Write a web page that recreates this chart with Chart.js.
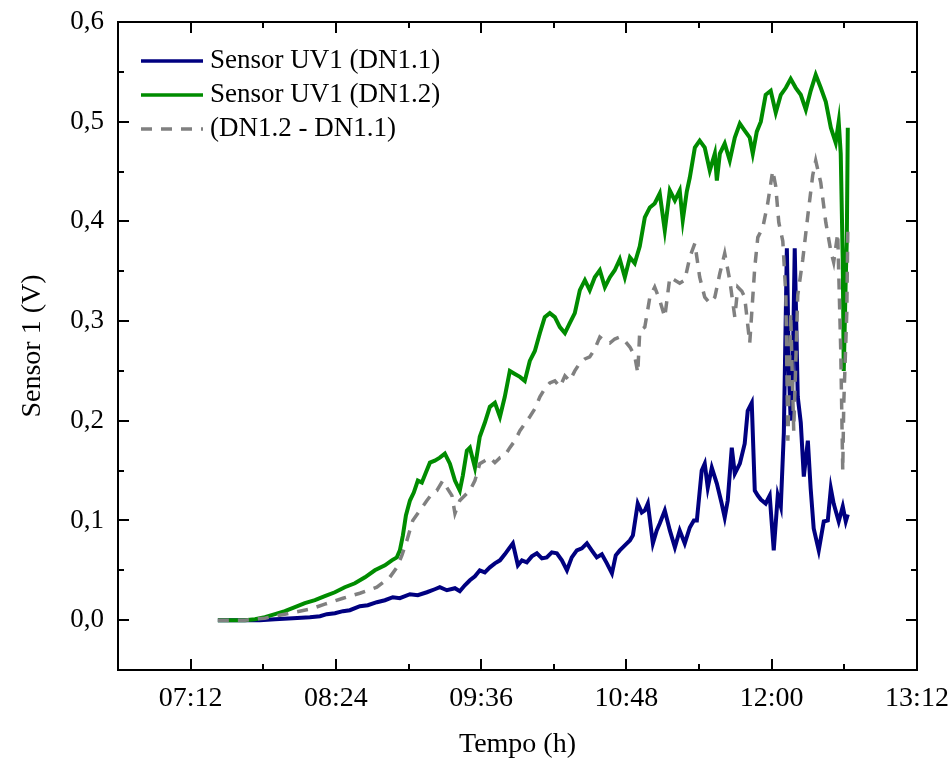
<!DOCTYPE html>
<html>
<head>
<meta charset="utf-8">
<title>Sensor UV1</title>
<script src="https://cdn.jsdelivr.net/npm/chart.js@4.4.0/dist/chart.umd.min.js"></script>
<style>
    html, body { margin: 0; padding: 0; background: #fff; }
    #wrap { width: 952px; height: 762px; }
</style>
</head>
<body>
<div id="wrap"><canvas id="myChart"></canvas></div>
<script>
// tempo em minutos desde 00:00, valores em V

// Sensor UV1 (DN1.1)
const tempoDN11 = [
    445.5, 456.4, 466.3, 473.8, 482.7, 491.1, 496.1, 499.5, 503.5, 507.5,
    510.9, 515.9, 519.8, 524.3, 528.3, 532.2, 535.7, 540.7, 544.6, 549.1,
    553.0, 555.5, 559.0, 563.0, 565.4, 567.9, 570.4, 572.9, 575.3, 577.8,
    580.3, 582.8, 585.3, 587.7, 590.2, 591.7, 594.2, 596.2, 598.6, 601.1,
    603.6, 606.1, 608.5, 611.0, 613.5, 616.0, 618.5, 620.9, 623.4, 625.9,
    628.4, 630.8, 633.3, 635.8, 638.3, 640.8, 642.7, 644.7, 646.7, 648.2,
    649.7, 651.2, 653.6, 655.6, 657.1, 658.6, 661.1, 663.0, 664.5, 667.0,
    669.5, 672.0, 674.4, 676.9, 679.4, 681.4, 682.9, 685.3, 686.8, 688.3,
    690.3, 692.8, 695.2, 696.7, 698.2, 700.2, 701.7, 704.2, 706.6, 708.1,
    710.1, 711.6, 713.1, 714.6, 717.0, 719.0, 721.0, 723.0, 724.5, 726.0,
    727.5, 728.5, 729.4, 730.4, 731.4, 732.9, 734.4, 735.9, 737.9, 739.3,
    740.8, 743.3, 745.8, 747.8, 749.3, 750.7, 753.2, 755.2, 756.7, 757.7
];
const sensorDN11 = [
    0.000, 0.000, 0.000, 0.001, 0.002, 0.003, 0.004, 0.006, 0.007, 0.009,
    0.010, 0.014, 0.015, 0.018, 0.020, 0.023, 0.022, 0.026, 0.025, 0.028,
    0.031, 0.033, 0.030, 0.032, 0.029, 0.035, 0.040, 0.044, 0.050, 0.048,
    0.053, 0.057, 0.060, 0.066, 0.073, 0.077, 0.055, 0.060, 0.058, 0.064,
    0.067, 0.062, 0.063, 0.068, 0.067, 0.060, 0.050, 0.063, 0.070, 0.072,
    0.077, 0.070, 0.063, 0.066, 0.057, 0.047, 0.065, 0.070, 0.074, 0.077,
    0.080, 0.085, 0.117, 0.108, 0.110, 0.117, 0.077, 0.090, 0.097, 0.110,
    0.090, 0.073, 0.090, 0.077, 0.093, 0.100, 0.100, 0.150, 0.157, 0.133,
    0.153, 0.137, 0.117, 0.103, 0.120, 0.173, 0.147, 0.157, 0.177, 0.210,
    0.218, 0.130, 0.125, 0.121, 0.117, 0.125, 0.070, 0.125, 0.114, 0.188,
    0.373, 0.250, 0.200, 0.250, 0.373, 0.224, 0.198, 0.144, 0.180, 0.132,
    0.092, 0.070, 0.099, 0.100, 0.132, 0.117, 0.099, 0.114, 0.099, 0.106
];

// Sensor UV1 (DN1.2)
const tempoDN12 = [
    445.5, 451.5, 458.9, 463.9, 468.8, 473.8, 478.7, 483.7, 488.6, 493.6,
    498.5, 503.5, 508.4, 513.4, 518.4, 523.3, 528.3, 531.7, 534.2, 535.7,
    537.2, 538.7, 540.7, 542.6, 544.6, 546.6, 548.6, 550.6, 553.0, 555.5,
    558.0, 560.5, 563.0, 565.4, 566.9, 568.9, 570.4, 572.9, 575.3, 577.8,
    580.3, 582.8, 585.3, 587.7, 590.2, 592.7, 595.2, 597.6, 600.1, 602.6,
    605.1, 607.5, 610.0, 612.5, 615.0, 617.5, 619.9, 622.4, 624.9, 627.4,
    629.8, 632.3, 634.8, 637.3, 639.8, 642.2, 644.7, 647.2, 649.7, 652.1,
    654.6, 657.1, 659.6, 662.0, 664.5, 667.0, 669.5, 672.0, 674.4, 675.9,
    677.9, 679.4, 681.9, 684.3, 686.8, 689.3, 691.8, 692.8, 694.3, 696.7,
    699.2, 701.7, 704.2, 706.6, 709.1, 710.6, 712.6, 714.6, 717.0, 719.5,
    722.0, 724.5, 727.0, 729.4, 731.9, 734.4, 736.9, 739.3, 741.8, 744.3,
    746.8, 749.3, 751.7, 753.2, 754.2, 755.2, 755.7, 756.7, 757.2, 757.7
];
const sensorDN12 = [
    0.000, 0.000, 0.000, 0.001, 0.003, 0.006, 0.009, 0.013, 0.017, 0.020,
    0.024, 0.028, 0.033, 0.037, 0.043, 0.050, 0.055, 0.060, 0.063, 0.070,
    0.085, 0.105, 0.120, 0.128, 0.140, 0.138, 0.148, 0.158, 0.160, 0.163,
    0.167, 0.157, 0.140, 0.130, 0.145, 0.170, 0.173, 0.153, 0.184, 0.198,
    0.214, 0.218, 0.204, 0.224, 0.250, 0.247, 0.244, 0.240, 0.260, 0.270,
    0.288, 0.304, 0.308, 0.304, 0.294, 0.288, 0.298, 0.308, 0.331, 0.341,
    0.331, 0.344, 0.351, 0.334, 0.344, 0.351, 0.362, 0.344, 0.364, 0.358,
    0.375, 0.404, 0.414, 0.418, 0.428, 0.391, 0.431, 0.421, 0.431, 0.401,
    0.430, 0.444, 0.474, 0.481, 0.474, 0.451, 0.468, 0.441, 0.468, 0.478,
    0.461, 0.484, 0.498, 0.491, 0.484, 0.468, 0.490, 0.500, 0.527, 0.531,
    0.509, 0.527, 0.534, 0.543, 0.534, 0.527, 0.512, 0.531, 0.547, 0.534,
    0.520, 0.494, 0.479, 0.500, 0.468, 0.360, 0.250, 0.344, 0.380, 0.494
];

// (DN1.2 - DN1.1)
const tempoDif = [
    445.5, 458.9, 468.8, 476.2, 483.7, 491.1, 498.5, 507.5, 515.9, 524.3,
    530.7, 534.2, 536.7, 539.2, 542.1, 545.6, 549.1, 552.1, 554.0, 557.0,
    559.0, 561.5, 563.0, 565.4, 567.9, 570.4, 572.9, 575.3, 577.8, 580.3,
    582.8, 585.3, 587.7, 590.2, 592.7, 595.2, 597.6, 600.1, 602.6, 605.1,
    607.5, 610.0, 612.5, 615.0, 617.5, 619.9, 622.4, 624.9, 627.4, 629.8,
    632.3, 634.8, 637.3, 639.8, 642.2, 644.7, 647.2, 649.7, 652.1, 653.6,
    654.6, 657.1, 659.6, 662.0, 664.5, 667.0, 669.5, 672.0, 674.4, 676.9,
    679.4, 681.9, 684.3, 686.8, 689.3, 691.8, 694.3, 696.7, 699.2, 701.7,
    703.2, 705.2, 706.6, 709.1, 711.6, 713.1, 715.6, 718.0, 720.5, 722.0,
    723.5, 725.5, 727.0, 728.0, 729.4, 730.9, 732.9, 735.4, 737.9, 740.3,
    741.8, 744.3, 746.8, 749.3, 750.7, 752.7, 754.2, 755.2, 755.7, 757.2, 757.7
];
const sensorDif = [
    0.000, 0.000, 0.002, 0.005, 0.008, 0.011, 0.016, 0.022, 0.027, 0.033,
    0.043, 0.053, 0.065, 0.080, 0.100, 0.110, 0.120, 0.128, 0.130, 0.140,
    0.133, 0.125, 0.107, 0.120, 0.125, 0.130, 0.140, 0.157, 0.160, 0.163,
    0.158, 0.163, 0.165, 0.173, 0.180, 0.190, 0.197, 0.204, 0.212, 0.224,
    0.232, 0.238, 0.240, 0.234, 0.245, 0.240, 0.250, 0.258, 0.262, 0.264,
    0.272, 0.284, 0.280, 0.278, 0.282, 0.284, 0.280, 0.274, 0.265, 0.248,
    0.290, 0.294, 0.324, 0.334, 0.321, 0.304, 0.344, 0.341, 0.338, 0.341,
    0.364, 0.378, 0.344, 0.324, 0.318, 0.324, 0.348, 0.368, 0.341, 0.304,
    0.334, 0.330, 0.324, 0.278, 0.354, 0.384, 0.394, 0.418, 0.451, 0.435,
    0.399, 0.380, 0.326, 0.180, 0.308, 0.190, 0.326, 0.362, 0.406, 0.446,
    0.461, 0.439, 0.399, 0.370, 0.359, 0.388, 0.271, 0.150, 0.217, 0.308, 0.390
];

// marcas dos eixos
const xMajor = [432, 504, 576, 648, 720, 792];
const xMinor = [468, 540, 612, 684, 756];
const yMajor = [0, 0.1, 0.2, 0.3, 0.4, 0.5, 0.6];
const yMinor = [0.05, 0.15, 0.25, 0.35, 0.45, 0.55];

const FONT = "'Liberation Serif', 'Times New Roman', serif";
Chart.defaults.font.family = FONT;
Chart.defaults.color = '#000';

function pontos(ts, vs) {
    return ts.map((t, i) => ({ x: t, y: vs[i] }));
}

function hhmm(min) {
    const h = Math.floor(min / 60);
    const m = Math.round(min - h * 60);
    return String(h).padStart(2, '0') + ':' + String(m).padStart(2, '0');
}

// sem folga extra dos rotulos, a area do grafico fica fixa
function semFolga(s) {
    s.paddingTop = 0;
    s.paddingBottom = 0;
    s.paddingLeft = 0;
    s.paddingRight = 0;
}

// moldura com marcas internas nos 4 lados
const moldura = {
    id: 'moldura',
    afterDatasetsDraw(chart) {
        const { ctx, chartArea: a, scales: { x, y } } = chart;
        ctx.save();
        ctx.strokeStyle = '#000';
        ctx.lineWidth = 2;
        ctx.beginPath();
        const xs = (vals, len) => vals.forEach(v => {
            const px = Math.round(x.getPixelForValue(v));
            ctx.moveTo(px, a.bottom); ctx.lineTo(px, a.bottom - len);
            ctx.moveTo(px, a.top); ctx.lineTo(px, a.top + len);
        });
        const ys = (vals, len) => vals.forEach(v => {
            const py = Math.round(y.getPixelForValue(v));
            ctx.moveTo(a.left, py); ctx.lineTo(a.left + len, py);
            ctx.moveTo(a.right, py); ctx.lineTo(a.right - len, py);
        });
        xs(xMajor, 11); xs(xMinor, 6);
        ys(yMajor, 11); ys(yMinor, 6);
        ctx.stroke();
        ctx.strokeRect(a.left, a.top, a.right - a.left, a.bottom - a.top);
        ctx.restore();
    }
};

// legenda dentro da area do grafico
const legenda = {
    id: 'legenda',
    afterDraw(chart) {
        const { ctx, chartArea: a } = chart;
        ctx.save();
        ctx.font = '27px ' + FONT;
        ctx.textBaseline = 'middle';
        ctx.fillStyle = '#000';
        chart.data.datasets.forEach((ds, i) => {
            const yy = a.top + 39 + i * 34;
            ctx.strokeStyle = ds.borderColor;
            ctx.lineWidth = 3.5;
            ctx.setLineDash(ds.borderDash || []);
            ctx.beginPath();
            ctx.moveTo(a.left + 23, yy);
            ctx.lineTo(a.left + 85, yy);
            ctx.stroke();
            ctx.fillText(ds.label, a.left + 92, yy);
        });
        ctx.restore();
    }
};

const ctx = document.getElementById('myChart').getContext('2d');
const myChart = new Chart(ctx, {
    type: 'line',
    data: {
        datasets: [
            {
                label: 'Sensor UV1 (DN1.1)',
                data: pontos(tempoDN11, sensorDN11),
                borderColor: '#000080',
                borderWidth: 4,
                order: 2
            },
            {
                label: 'Sensor UV1 (DN1.2)',
                data: pontos(tempoDN12, sensorDN12),
                borderColor: '#008c00',
                borderWidth: 4,
                order: 1
            },
            {
                label: '(DN1.2 - DN1.1)',
                data: pontos(tempoDif, sensorDif),
                borderColor: '#808080',
                borderWidth: 3.5,
                borderDash: [11, 9],
                order: 0
            }
        ]
    },
    options: {
        responsive: true,
        maintainAspectRatio: false,
        animation: false,
        layout: { padding: { left: 0, top: 22, right: 35, bottom: 0 } },
        elements: { point: { radius: 0 }, line: { tension: 0, fill: false } },
        plugins: { legend: { display: false }, tooltip: { enabled: false } },
        scales: {
            x: {
                type: 'linear',
                min: 396,
                max: 792,
                grid: { display: false, drawTicks: false },
                border: { display: false },
                afterBuildTicks: s => { s.ticks = xMajor.map(v => ({ value: v })); },
                afterFit: s => { s.height = 92; semFolga(s); },
                ticks: {
                    padding: 12,
                    maxRotation: 0,
                    autoSkip: false,
                    font: { size: 28 },
                    callback: v => hhmm(v)
                },
                title: {
                    display: true,
                    text: 'Tempo (h)',
                    font: { size: 28 },
                    padding: { top: 0, bottom: 1 }
                }
            },
            y: {
                min: -0.05,
                max: 0.6,
                grid: { display: false, drawTicks: false },
                border: { display: false },
                afterBuildTicks: s => { s.ticks = yMajor.map(v => ({ value: v })); },
                afterFit: s => { s.width = 118; semFolga(s); },
                ticks: {
                    padding: 14,
                    font: { size: 27 },
                    callback: v => v.toFixed(1).replace('.', ',')
                },
                title: {
                    display: true,
                    text: 'Sensor 1 (V)',
                    font: { size: 28 },
                    padding: { top: 16, bottom: 0 }
                }
            }
        }
    },
    plugins: [moldura, legenda]
});
</script>
</body>
</html>
